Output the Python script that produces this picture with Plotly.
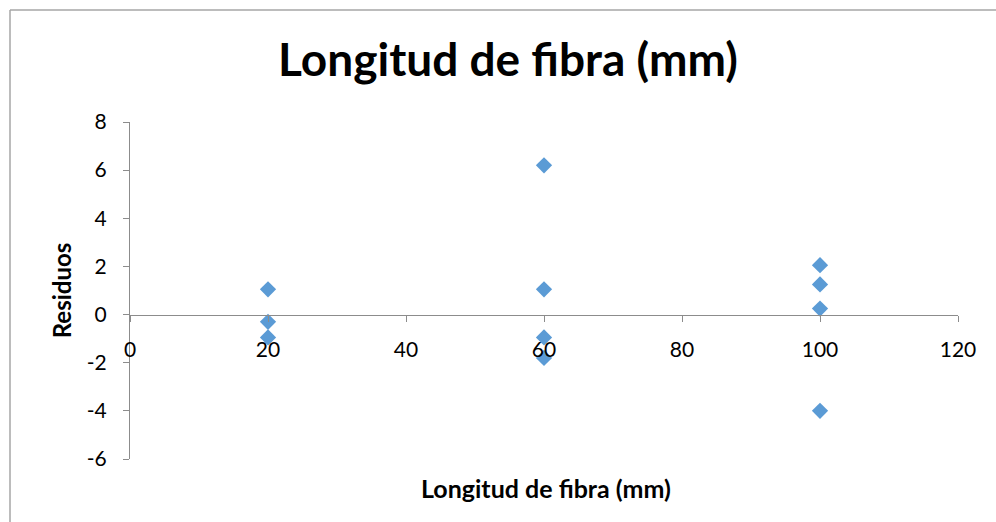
import plotly.graph_objects as go

# Residuals of the fitted model grouped by fibre length (mm)
longitud = [20, 20, 20, 60, 60, 60, 60, 100, 100, 100, 100]
residuos = [1.05, -0.3, -0.95, 6.2, 1.05, -0.95, -1.8, 2.05, 1.25, 0.25, -4.0]

x_ticks = [0, 20, 40, 60, 80, 100, 120]
y_ticks = [-6, -4, -2, 0, 2, 4, 6, 8]

FONT = "Lato"
AXIS_GRAY = "#8c8c8c"

fig = go.Figure(
    go.Scatter(
        x=longitud,
        y=residuos,
        mode="markers",
        marker=dict(symbol="diamond", size=12.5, color="#5b9bd5"),
        showlegend=False,
    )
)

y_min, y_max = -6, 8
zero_pos = (0 - y_min) / (y_max - y_min)

fig.update_layout(
    width=996,
    height=522,
    margin=dict(l=130, r=38, t=122, b=63),
    paper_bgcolor="white",
    plot_bgcolor="white",
    font=dict(family=FONT, color="black", size=21),
    title=dict(
        text="<b>Longitud de fibra (mm)</b>",
        font=dict(family=FONT, size=46, color="black"),
        x=0.51,
        xanchor="center",
        y=0.885,
        yanchor="middle",
    ),
    xaxis=dict(
        range=[0, 120],
        tickvals=x_ticks,
        ticktext=[str(v) for v in x_ticks],
        showgrid=False,
        zeroline=False,
        showline=True,
        linecolor=AXIS_GRAY,
        linewidth=1.3,
        ticks="outside",
        ticklen=6,
        tickcolor=AXIS_GRAY,
        anchor="free",
        position=zero_pos,
        tickfont=dict(size=21),
        ticklabelstandoff=10,
    ),
    yaxis=dict(
        range=[y_min, y_max],
        tickvals=y_ticks,
        ticktext=[str(v) for v in y_ticks],
        showgrid=False,
        zeroline=False,
        showline=True,
        linecolor=AXIS_GRAY,
        linewidth=1.3,
        ticks="outside",
        ticklen=6,
        tickcolor=AXIS_GRAY,
        tickfont=dict(size=21),
        ticklabelstandoff=12,
        title=dict(text="<b>Residuos</b>", font=dict(size=24), standoff=8),
    ),
    annotations=[
        dict(
            text="<b>Longitud de fibra (mm)</b>",
            xref="paper",
            yref="paper",
            x=0.503,
            y=-0.035,
            xanchor="center",
            yanchor="top",
            showarrow=False,
            font=dict(family=FONT, size=25, color="black"),
        )
    ],
)

# Chart frame (top and left edges)
plot_w = 996 - 130 - 38
plot_h = 522 - 122 - 63
fx = (10 - 130) / plot_w
fy = (522 - 63 - 10) / plot_h
frame = dict(color="#a6a6a6", width=1.5)
fig.add_shape(type="line", xref="paper", yref="paper", x0=fx, x1=2, y0=fy, y1=fy, line=frame)
fig.add_shape(type="line", xref="paper", yref="paper", x0=fx, x1=fx, y0=fy, y1=-2, line=frame)

fig.write_html("out.html")
